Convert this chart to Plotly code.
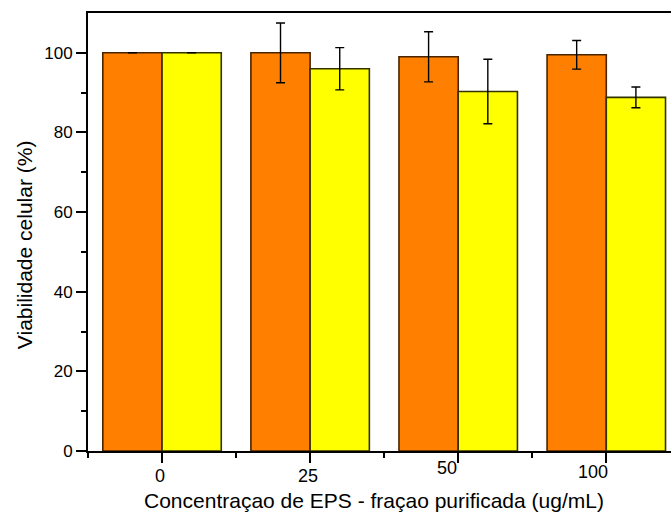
import plotly.graph_objects as go

# Cell viability (%) for each EPS concentration
concentracoes = ["0", "25", "50", "100"]
serie_a = [100.0, 100.0, 99.0, 99.5]
erro_a = [None, 7.5, 6.3, 3.6]
serie_b = [100.0, 96.0, 90.3, 88.8]
erro_b = [None, 5.3, 8.1, 2.6]

titulo_x = "Concentraçao de EPS - fraçao purificada (ug/mL)"
titulo_y = "Viabilidade celular (%)"

posicoes = list(range(len(concentracoes)))

# per-label nudges (px) for the category labels under the x axis
desloc_x = [-2, -2, -11, -13]
desloc_y = [-24.5, -25, -16.5, -20.5]

fonte = "Liberation Sans, Arial, sans-serif"

fig = go.Figure()
fig.add_trace(go.Bar(
    x=posicoes, y=serie_a,
    marker=dict(color="#FF8000", line=dict(color="#4a2400", width=1.6)),
    error_y=dict(type="data", array=erro_a, visible=True,
                 color="black", thickness=1.4, width=4.5),
    showlegend=False,
))
fig.add_trace(go.Bar(
    x=posicoes, y=serie_b,
    marker=dict(color="#FFFF00", line=dict(color="#333300", width=1.6)),
    error_y=dict(type="data", array=erro_b, visible=True,
                 color="black", thickness=1.4, width=4.5),
    showlegend=False,
))

for p, txt, dx, dy in zip(posicoes, concentracoes, desloc_x, desloc_y):
    fig.add_annotation(
        x=p, y=0, xref="x", yref="paper", text=txt, showarrow=False,
        xanchor="center", yanchor="middle", xshift=dx, yshift=dy,
        font=dict(family=fonte, size=18, color="black"),
    )

# axis titles
fig.add_annotation(
    x=0.4906, y=0, xref="paper", yref="paper", text=titulo_x,
    showarrow=False, xanchor="center", yanchor="middle", yshift=-49,
    font=dict(family=fonte, size=21, color="black"),
)
fig.add_annotation(
    x=0, y=0.470, xref="paper", yref="paper", text=titulo_y,
    showarrow=False, textangle=-90, xanchor="center", yanchor="middle",
    xshift=-64, font=dict(family=fonte, size=21, color="black"),
)

fig.update_layout(
    width=671, height=516,
    margin=dict(l=88, r=0, t=13, b=65),
    paper_bgcolor="white", plot_bgcolor="white",
    barmode="group", bargap=0.2, bargroupgap=0,
    font=dict(family=fonte, size=17, color="black"),
)

fig.update_xaxes(
    range=[-0.5, 3.437],
    tickvals=posicoes, showticklabels=False,
    ticks="outside", ticklen=10, tickwidth=1.6, tickcolor="black",
    minor=dict(tickvals=[-0.5, 0.5, 1.5, 2.5], ticks="outside",
               ticklen=5, tickwidth=1.6, tickcolor="black"),
    showline=True, linecolor="black", linewidth=2, mirror=True,
    showgrid=False, zeroline=False,
)
fig.update_yaxes(
    range=[0, 110],
    tickvals=[0, 20, 40, 60, 80, 100],
    ticks="outside", ticklen=10, tickwidth=1.6, tickcolor="black",
    minor=dict(tickvals=[10, 30, 50, 70, 90], ticks="outside",
               ticklen=5, tickwidth=1.6, tickcolor="black"),
    showline=True, linecolor="black", linewidth=2,
    showgrid=False, zeroline=False,
    tickfont=dict(size=17),
)

fig.write_html("out.html")
